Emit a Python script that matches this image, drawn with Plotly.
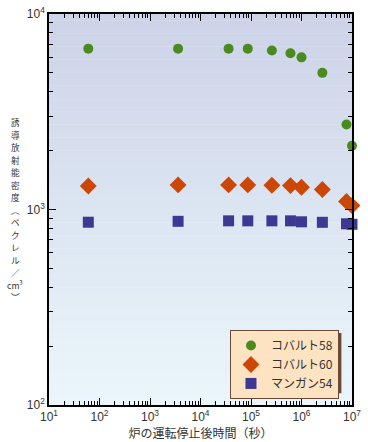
import plotly.graph_objects as go

# time after reactor shutdown (s)
times = [60, 3600, 36000, 86400, 259200, 604800, 1.0e6, 2.59e6, 7.78e6, 1.0e7]
# induced activity density (Bq/cm3)
co58 = [6650, 6650, 6650, 6650, 6500, 6300, 6000, 5000, 2720, 2120]
co60 = [1320, 1336, 1336, 1336, 1330, 1325, 1300, 1265, 1100, 1047]
mn54 = [861, 870, 875, 875, 875, 875, 865, 860, 845, 840]

series_names = ["コバルト58", "コバルト60", "マンガン54"]
series_colors = ["#4b8a1e", "#cc4706", "#3c3894"]
series_symbols = ["circle", "diamond", "square"]
series_sizes = [10, 13, 11]

x_tickvals = [1e1, 1e2, 1e3, 1e4, 1e5, 1e6, 1e7]
x_ticktext = ["10<sup>%d</sup>" % i for i in range(1, 8)]
y_tickvals = [1e2, 1e3, 1e4]
y_ticktext = ["10<sup>2</sup>", "10<sup>3</sup>", "10<sup>4</sup>"]

x_title = "炉の運転停止後時間（秒）"
y_title_chars = ["誘", "導", "放", "射", "能", "密", "度", "︵", "ベ", "ク", "レ", "ル", "／", "cm<sup>3</sup>", "︶"]

fig = go.Figure()
for name, vals, col, sym, sz in zip(series_names, [co58, co60, mn54], series_colors, series_symbols, series_sizes):
    fig.add_trace(go.Scatter(
        x=times, y=vals, mode="markers", name=name, cliponaxis=False,
        marker=dict(color=col, symbol=sym, size=sz, line=dict(width=0)),
    ))

# vertical gradient background
top = (205, 211, 232)
bot = (234, 246, 251)
n = 60
shapes = []
for i in range(n):
    t = i / (n - 1)
    c = tuple(round(top[k] + (bot[k] - top[k]) * t) for k in range(3))
    shapes.append(dict(type="rect", xref="x domain", yref="y domain",
                       x0=0, x1=1, y0=1 - (i + 1) / n, y1=1 - i / n + 0.001,
                       fillcolor="rgb(%d,%d,%d)" % c, line=dict(width=0), layer="below"))
# legend shadow
shapes.append(dict(type="rect", xref="paper", yref="paper",
                   x0=0.607, x1=0.965, y0=0.030, y1=0.184,
                   fillcolor="#6b4a38", line=dict(width=0), layer="above"))

axis_common = dict(
    type="log", showgrid=False, zeroline=False, showline=True, linecolor="black",
    linewidth=1.5, mirror="allticks", ticks="inside", ticklen=7, tickwidth=1,
    tickcolor="black", automargin=False, ticklabeloverflow="allow",
    tickfont=dict(size=12, color="#333333", family="Liberation Sans, Arial"),
    minor=dict(ticks="inside", ticklen=4, tickcolor="black", dtick="D1", showgrid=False),
)

# vertical (upright) y-axis title, one character per line
step = 12.5
mid = (len(y_title_chars) - 1) / 2
annotations = []
for i, ch in enumerate(y_title_chars):
    annotations.append(dict(
        text=ch, xref="paper", yref="paper", x=-0.112, y=0.499,
        yshift=(mid - i) * step, xanchor="center", yanchor="middle", showarrow=False,
        font=dict(size=8.6, color="#333333", family="Noto Sans CJK JP"),
    ))

fig.update_layout(
    width=368, height=442,
    margin=dict(l=49, r=16, t=14, b=37),
    paper_bgcolor="white", plot_bgcolor="white",
    showlegend=True,
    legend=dict(x=0.957, y=0.192, xanchor="right", yanchor="top",
                bgcolor="#fde3c2", bordercolor="#6b4a38", borderwidth=1,
                font=dict(size=12, color="#333333", family="Noto Sans CJK JP"),
                itemwidth=30, tracegroupgap=0),
    xaxis=dict(axis_common, range=[1, 7], tickvals=x_tickvals, ticktext=x_ticktext,
               title=dict(text=x_title, font=dict(size=12, color="#333333", family="Noto Sans CJK JP"), standoff=2)),
    yaxis=dict(axis_common, range=[2, 4], tickvals=y_tickvals, ticktext=y_ticktext),
    shapes=shapes,
    annotations=annotations,
)

fig.write_html("out.html", config={"displayModeBar": False},
               post_script="document.body.style.margin='0';")
